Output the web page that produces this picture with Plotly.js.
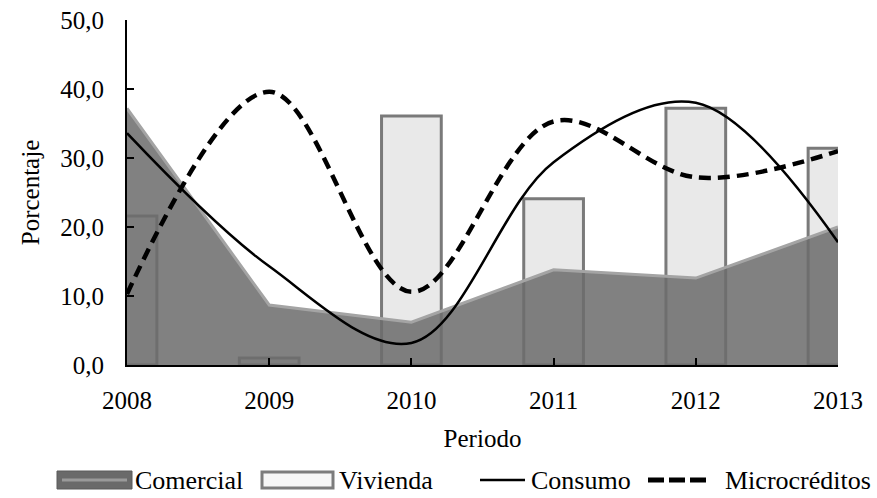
<!DOCTYPE html>
<html>
<head>
<meta charset="utf-8">
<script src="https://cdn.plot.ly/plotly-3.0.1.min.js"></script>
<style>html,body{margin:0;padding:0;background:#fff;}#chart{width:877px;height:498px;}</style>
</head>
<body>
<div id="chart"></div>
<script>
const years = [2008, 2009, 2010, 2011, 2012, 2013];
const yearLabels = ['2008', '2009', '2010', '2011', '2012', '2013'];
const comercial = [37.2, 8.7, 6.2, 13.8, 12.6, 20.0];
const vivienda = [21.6, 1.0, 36.1, 24.1, 37.2, 31.4];
const consumo = [33.6, 14.3, 3.2, 29.4, 38.0, 17.8];
const microcreditos = [10.3, 39.6, 10.6, 35.3, 27.2, 31.0];
const seriesNames = ['Comercial', 'Vivienda', 'Consumo', 'Microcréditos'];
const yTicks = [0, 10, 20, 30, 40, 50];

const FONT = '"Liberation Serif", "Times New Roman", Times, serif';
const W = 877, H = 498;
const M = {l: 127, r: 39, t: 20, b: 133};
const PW = W - M.l - M.r, PH = H - M.t - M.b;
const px = v => (v - M.l) / PW;          // pixel x -> paper x
const py = v => (H - M.b - v) / PH;      // pixel y -> paper y

const traces = [
  {
    type: 'scatter', mode: 'lines', name: seriesNames[0],
    x: years, y: comercial, fill: 'tozeroy',
    fillcolor: 'rgba(108,108,108,0.86)',
    line: {color: '#a4a4a4', width: 3}
  },
  {
    type: 'bar', name: seriesNames[1],
    x: years, y: vivienda, width: 0.42,
    marker: {color: '#e9e9e9', line: {color: '#7a7a7a', width: 3}}
  },
  {
    type: 'scatter', mode: 'lines', name: seriesNames[2],
    x: years, y: consumo,
    line: {color: '#000', width: 2.5, shape: 'spline', smoothing: 1}
  },
  {
    type: 'scatter', mode: 'lines', name: seriesNames[3],
    x: years, y: microcreditos,
    line: {color: '#000', width: 4.5, dash: '12px,7px', shape: 'spline', smoothing: 1}
  }
];

// custom legend (symbols + text) below the axis
const legY = 480, legTop = 471, legBot = 489;
const shapes = [
  {type: 'rect', xref: 'paper', yref: 'paper', x0: px(57), x1: px(132), y0: py(legBot), y1: py(legTop),
   fillcolor: '#6a6a6a', line: {color: '#5a5a5a', width: 1}},
  {type: 'line', xref: 'paper', yref: 'paper', x0: px(62), x1: px(127), y0: py(legY), y1: py(legY),
   line: {color: '#9a9a9a', width: 3}},
  {type: 'rect', xref: 'paper', yref: 'paper', x0: px(262), x1: px(333), y0: py(legBot - 1), y1: py(legTop + 1),
   fillcolor: '#f6f6f6', line: {color: '#7c7c7c', width: 3}},
  {type: 'line', xref: 'paper', yref: 'paper', x0: px(480), x1: px(525), y0: py(legY), y1: py(legY),
   line: {color: '#000', width: 2.5}},
  {type: 'line', xref: 'paper', yref: 'paper', x0: px(648), x1: px(711), y0: py(legY), y1: py(legY),
   line: {color: '#000', width: 5, dash: '16px,5px'}}
];
const legTextX = [134, 338, 530, 724];
const annotations = seriesNames.map((n, i) => ({
  text: n, xref: 'paper', yref: 'paper', x: px(legTextX[i]), y: py(legY),
  xanchor: 'left', yanchor: 'middle', showarrow: false, borderpad: 0,
  font: {family: FONT, size: 26, color: '#000'}
}));

const layout = {
  width: W, height: H,
  margin: M,
  paper_bgcolor: '#fff', plot_bgcolor: '#fff',
  separators: ',.',
  font: {family: FONT, size: 25, color: '#000'},
  showlegend: false,
  shapes: shapes,
  annotations: annotations,
  xaxis: {
    type: 'linear', range: [2008, 2013],
    tickvals: years, ticktext: yearLabels,
    showgrid: false, zeroline: false,
    showline: true, linecolor: '#000', linewidth: 2,
    ticks: 'inside', ticklen: 7, tickwidth: 2, tickcolor: '#000',
    ticklabelstandoff: 12,
    title: {text: 'Periodo', font: {family: FONT, size: 25, color: '#000'}, standoff: 16},
    automargin: false
  },
  yaxis: {
    range: [0, 50], tickvals: yTicks, tickformat: '.1f',
    showgrid: false, zeroline: false,
    showline: true, linecolor: '#000', linewidth: 2,
    ticks: 'inside', ticklen: 7, tickwidth: 2, tickcolor: '#000',
    ticklabelstandoff: 16,
    title: {text: 'Porcentaje', font: {family: FONT, size: 25, color: '#000'}, standoff: 14},
    automargin: false
  }
};

Plotly.newPlot('chart', traces, layout, {displayModeBar: false, staticPlot: true});
</script>
</body>
</html>
